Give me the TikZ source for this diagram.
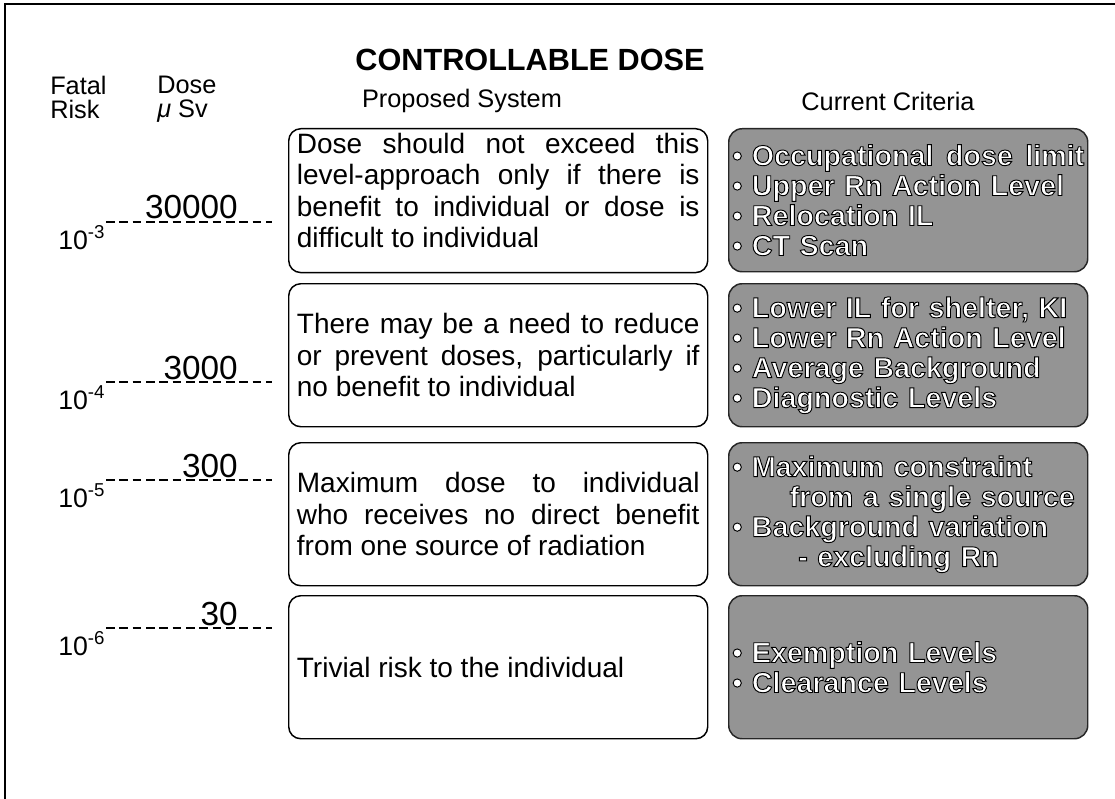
\documentclass[tikz,border=0pt]{standalone}
\usepackage{fontspec}
\setmainfont{Liberation Sans}
\usetikzlibrary{positioning}
\newcommand{\comma}{,}
\newcommand{\halo}{\special{pdf:literal direct 2 Tr 0.7 w 0 G}}
\tikzset{
  colhead/.style={font=\fontsize{19}{22}\selectfont},
  axlbl/.style={font=\fontsize{19}{18}\selectfont,align=left,inner sep=0pt,anchor=north west},
  propbox/.style={draw,line width=1.1pt,rounded corners=9pt,anchor=north west,
    minimum width=314.25pt,minimum height=107.25pt,text width=302pt,align=justify,
    inner xsep=5.4pt,font=\fontsize{21}{23.6}\selectfont},
  critbox/.style={draw=black!85,line width=1.1pt,fill=black!42,text=white,
    rounded corners=10pt,anchor=north west,minimum width=269.25pt,minimum height=107.25pt,
    text width=264pt,align=left,inner xsep=2pt,font=\bfseries\fontsize{21.5}{22.5}\selectfont},
  riskline/.style={dash pattern=on 6.5pt off 3.5pt,line width=1.9pt},
  risklbl/.style={font=\fontsize{20}{22}\selectfont,inner sep=0pt,anchor=base west},
  doselbl/.style={font=\fontsize{25}{28}\selectfont,inner sep=0pt,anchor=base east},
}

\begin{document}
\begin{tikzpicture}[x=0.75pt,y=-0.75pt]
  \useasboundingbox (0,0) rectangle (1115,799);
  \draw[line width=1.4pt] (1115,4) -- (5,4) -- (5,799);

  \node[font=\bfseries\fontsize{23}{26}\selectfont] (title) at (530,60) {CONTROLLABLE DOSE};
  \node[colhead] (prop) at (462,101) {Proposed System};
  \node[colhead] (crit) at (888,101) {Current Criteria};
  \node[axlbl] (risk) at (50,76) {Fatal\\Risk};
  \node[axlbl] (dose) at (157,76) {Dose\\\textit{μ} Sv};

  \foreach \n/\yt/\ly/\rk/\ds/\pt/\ct in {
    1/128/222/3/30000/{Dose should not exceed this\linebreak level-approach only if there is\linebreak benefit to individual or dose is\linebreak difficult to individual\endgraf\kern15pt}/{\halo • Occupational\hfill dose\hfill limit\\ • Upper Rn Action Level\\ • Relocation IL\\ • CT Scan},
    2/283/382/4/3000/{There may be a need to reduce\linebreak or prevent doses\comma{} particularly if\linebreak no benefit to individual}/{\halo • Lower IL for shelter\comma{} KI\\ • Lower Rn Action Level\\ • Average Background\\ • Diagnostic Levels},
    3/442/480/5/300/{Maximum dose to individual\linebreak who receives no direct benefit\linebreak from one source of radiation}/{\halo • Maximum constraint\\ \hspace*{2em}from a single source\\ • Background variation\\ \hspace*{2.3em}- excluding Rn},
    4/595/628/6/30/{Trivial risk to the individual}/{\halo • Exemption Levels\\ • Clearance Levels}}
  {
    \node[propbox] (p\n) at (288,\yt) {\pt};
    \node[critbox] (c\n) at (728,\yt) {\ct};
    \coordinate (a\n) at (106,\ly);
    \coordinate (b\n) at (272,\ly);
    \draw[riskline] (a\n) -- (b\n);
    \node[risklbl] (r\n) at (58,\ly+27) {10\textsuperscript{-\rk}};
    \node[doselbl] (d\n) at (238,\ly-3) {\ds};
  }
\end{tikzpicture}
\end{document}
